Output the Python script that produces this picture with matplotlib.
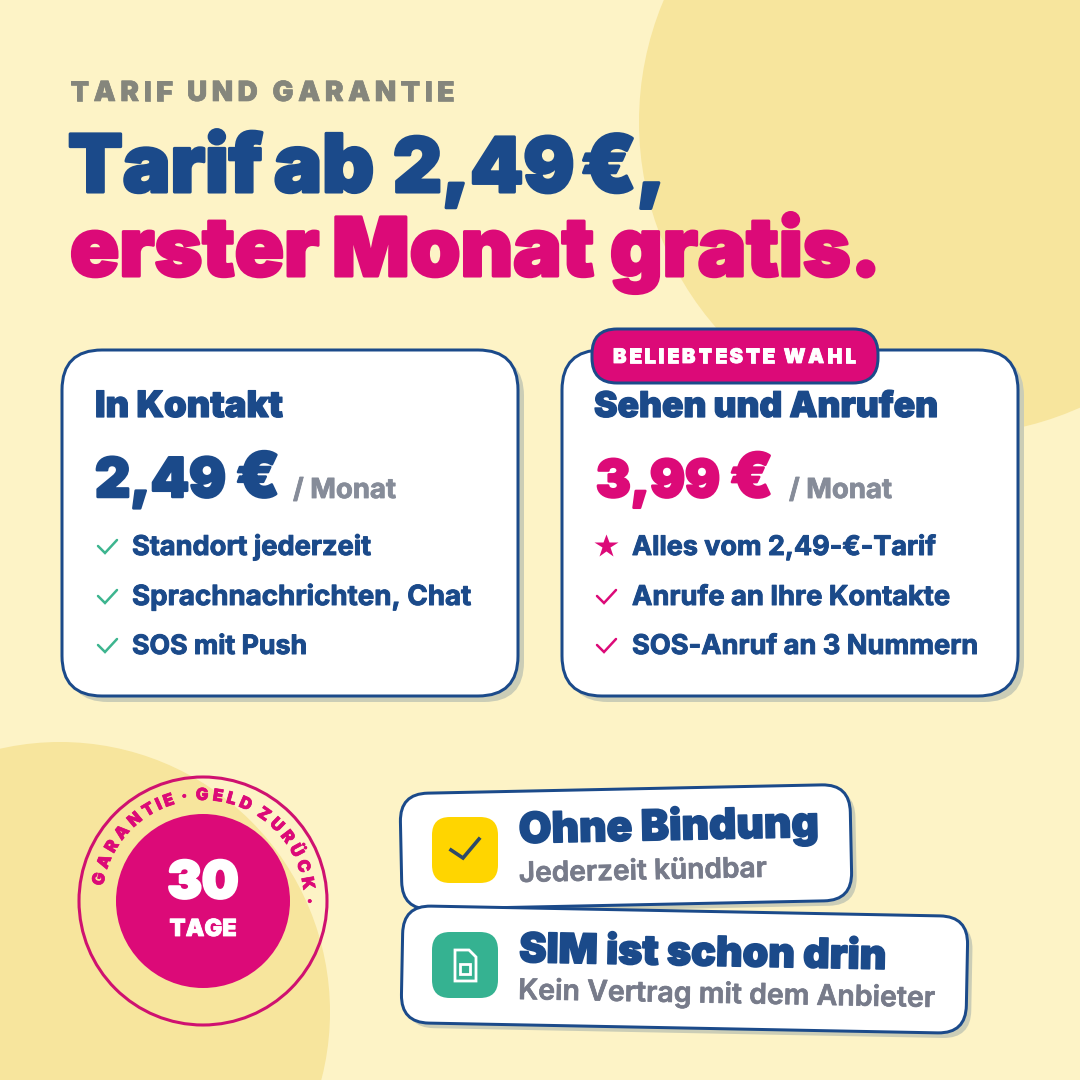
import numpy as np
import matplotlib
matplotlib.use('Agg')
import matplotlib.pyplot as plt
from matplotlib.patches import Circle, FancyBboxPatch, Polygon
from matplotlib.transforms import Affine2D
import matplotlib.patheffects as pe

# Text content
eyebrow = 'TARIF UND GARANTIE'
head_1 = ['Tarif', 'ab', '2,49', '€,']
head_2 = ['erster', 'Monat', 'gratis.']
left_title = 'In Kontakt'
right_title = 'Sehen und Anrufen'
left_price = ['2,49', '€']
right_price = ['3,99', '€']
per_month = '/ Monat'
badge_text = 'BELIEBTESTE WAHL'
left_items = ['Standort jederzeit', 'Sprachnachrichten, Chat', 'SOS mit Push']
right_items = ['Alles vom 2,49-€-Tarif', 'Anrufe an Ihre Kontakte', 'SOS-Anruf an 3 Nummern']
stamp_ring = 'GARANTIE · GELD ZURÜCK ·'
stamp_num = '30'
stamp_unit = 'TAGE'
tag_1 = ['Ohne Bindung', 'Jederzeit kündbar']
tag_2 = ['SIM ist schon drin', 'Kein Vertrag mit dem Anbieter']

# Colours
BG = '#FDF3C6'
BLOB = '#F7E59D'
NAVY = '#1B4A8A'
PINK = '#DC0A78'
GREY = '#868C99'
SHADOW = '#CBCDB6'
GREEN = '#3DB58F'

plt.rcParams['font.family'] = ['Inter', 'DejaVu Sans']

fig = plt.figure(figsize=(10.8, 10.8), dpi=100, facecolor=BG)
ax = fig.add_axes([0, 0, 1, 1])
ax.set_xlim(0, 1080)
ax.set_ylim(1080, 0)
ax.axis('off')
renderer = fig.canvas.get_renderer()


def measure(s, weight=900, size=100):
    t = ax.text(0, 0, s, fontsize=size, weight=weight)
    w = t.get_window_extent(renderer).width
    t.remove()
    return w


def fit(s, width, weight=900):
    return 100 * width / measure(s, weight)


def put(s, x, y, x_end=None, size=None, color=NAVY, weight=900, stroke=0, rot=0, ha='left'):
    if size is None:
        size = fit(s, x_end - x, weight)
    t = ax.text(x, y, s, fontsize=size, color=color, weight=weight, ha=ha, va='baseline',
                rotation=rot, rotation_mode='anchor', zorder=6)
    if stroke:
        t.set_path_effects([pe.withStroke(linewidth=stroke, foreground=color)])
    return t


def spaced(s, x0, x1, y, size, color, stroke=0):
    # letterspaced caps, one Text per letter
    base = measure('HH', size=size)
    adv = [measure('H' + c + 'H', size=size) - base for c in s]
    track = (x1 - x0 - sum(adv)) / (len(s) - 1)
    x = x0
    for c, a in zip(s, adv):
        if c != ' ':
            put(c, x, y, size=size, color=color, stroke=stroke)
        x += a + track


def card(x0, y0, x1, y1, r, lw=3.0, shadow=6, angle=0, face='white', edge=NAVY, z=3):
    cx, cy = (x0 + x1) / 2, (y0 + y1) / 2
    tr = Affine2D().rotate_deg_around(cx, cy, angle) + ax.transData
    style = f'round,pad=0,rounding_size={r}'
    if shadow:
        ax.add_patch(FancyBboxPatch((x0 + shadow, y0 + shadow), x1 - x0, y1 - y0, boxstyle=style,
                                    fc=SHADOW, ec='none', transform=tr, zorder=z))
    ax.add_patch(FancyBboxPatch((x0, y0), x1 - x0, y1 - y0, boxstyle=style, fc=face, ec=edge,
                                lw=lw * 0.72, transform=tr, zorder=z))


def tick(x, y, color, lw=2.5, scale=1.0):
    pts = np.array([[0, 0], [7, 7], [19, -6]]) * scale
    ax.plot(pts[:, 0] + x, pts[:, 1] + y, color=color, lw=lw * 0.72, zorder=6,
            solid_capstyle='round', solid_joinstyle='miter')


# Background blobs
ax.add_patch(Circle((952, 122), 313, fc=BLOB, ec='none', zorder=1))
ax.add_patch(Circle((60, 1012), 270, fc=BLOB, ec='none', zorder=1))

# Header
spaced(eyebrow, 70, 454, 101, 20, '#85867C', stroke=0.5)
for w, x0, size in zip(head_1, [68, 274, 393, 581], [57.5, 58, 54.5, 57]):
    put(w, x0, 192, size=size, color=NAVY, stroke=2.2)
for w, x0 in zip(head_2, [70, 332, 610]):
    put(w, x0, 276, size=58.5, color=PINK, stroke=2.2)

# Tariff cards
card(62, 350, 518, 696, 40)
card(562, 350, 1018, 696, 40)
card(592, 329, 878, 383, 25, shadow=0, face=PINK, z=5)
spaced(badge_text, 613, 856, 363, 14.5, 'white', stroke=0.6)

put(left_title, 95, 417, 283, color=NAVY, stroke=0.9)
put(right_title, 594, 417, 938, color=NAVY, stroke=0.9)

left_size = fit(left_price[0], 131)
right_size = fit(right_price[0], 124)
put(left_price[0], 95, 497, size=left_size, color=NAVY, stroke=1.8)
put(left_price[1], 236, 497, size=left_size * 1.14, color=NAVY, stroke=1.8)
put(right_price[0], 596, 497, size=right_size, color=PINK, stroke=1.8)
put(right_price[1], 730, 497, size=right_size * 1.18, color=PINK, stroke=1.8)
put(per_month, 293, 498, 396, color=GREY, weight=700, stroke=0.6)
put(per_month, 789, 498, 892, color=GREY, weight=700, stroke=0.6)

rows = [555, 605, 654]
left_ends = [371, 471, 307]
right_ends = [936, 950, 978]
for s, y, x1 in zip(left_items, rows, left_ends):
    put(s, 132, y, x1, color=NAVY, weight=700, stroke=0.7)
    tick(98, y - 9, GREEN)
for s, y, x1, i in zip(right_items, rows, right_ends, range(3)):
    put(s, 632, y, x1, color=NAVY, weight=700, stroke=0.7)
    if i > 0:
        tick(597, y - 9, PINK)
ax.plot([606], [546], marker='*', ms=17.5, color=PINK, mec='none', zorder=6)

# Guarantee stamp
cx, cy = 203, 901
ax.add_patch(Circle((cx, cy), 124, fc='none', ec='#CF1170', lw=2.2, zorder=4))
ax.add_patch(Circle((cx, cy), 87, fc=PINK, ec='none', zorder=4))
put(stamp_num, cx, 898, size=37, color='white', ha='center', stroke=2)
put(stamp_unit, cx, 936, size=17, color='white', ha='center', stroke=0.6)

ring_size = 12
base = measure('HH', size=ring_size)
adv = np.array([measure('H' + c + 'H', size=ring_size) - base for c in stamp_ring])
centres = np.cumsum(adv) - adv / 2
th0, th1 = -78, 90
theta = th0 + (centres - centres[0]) / (centres[-1] - centres[0]) * (th1 - th0)
for c, th in zip(stamp_ring, theta):
    if c == ' ':
        continue
    rad = np.radians(th)
    put(c, cx + 101 * np.sin(rad), cy - 101 * np.cos(rad), size=ring_size, color=PINK,
        rot=-th, ha='center', stroke=0.5)

# Tilted tags
card(401, 789, 851, 905, 28, angle=-1.2, shadow=5)
card(402, 911, 967, 1028, 28, angle=1.1, shadow=5, z=4)
card(432, 817, 498, 883, 18, lw=0, shadow=0, face='#FFD500', edge='#FFD500', z=5)
card(432, 932, 498, 998, 18, lw=0, shadow=0, face='#35B291', edge='#35B291', z=5)

ax.plot([451, 463, 479], [850, 858, 839], color='#2D4A6B', lw=2.6, zorder=6, solid_joinstyle='miter')
sim = Polygon([[455, 950], [469, 950], [476, 957], [476, 981], [455, 981]], closed=True,
              fc='none', ec='white', lw=2.0, zorder=6)
ax.add_patch(sim)
ax.add_patch(Polygon([[460, 964], [470, 964], [470, 974], [460, 974]], closed=True, fc='none',
                     ec='white', lw=2.0, zorder=6))

put(tag_1[0], 519, 843, 819, color=NAVY, rot=1.2, stroke=1.2)
put(tag_1[1], 519, 882, 767, color='#777B8A', weight=600, rot=1.2, stroke=0.5)
put(tag_2[0], 519, 962, 886, color=NAVY, rot=-1.1, stroke=1.2)
put(tag_2[1], 518, 999, 935, color='#777B8A', weight=600, rot=-1.1, stroke=0.5)

fig.savefig('out.png', dpi=100, facecolor=BG)
